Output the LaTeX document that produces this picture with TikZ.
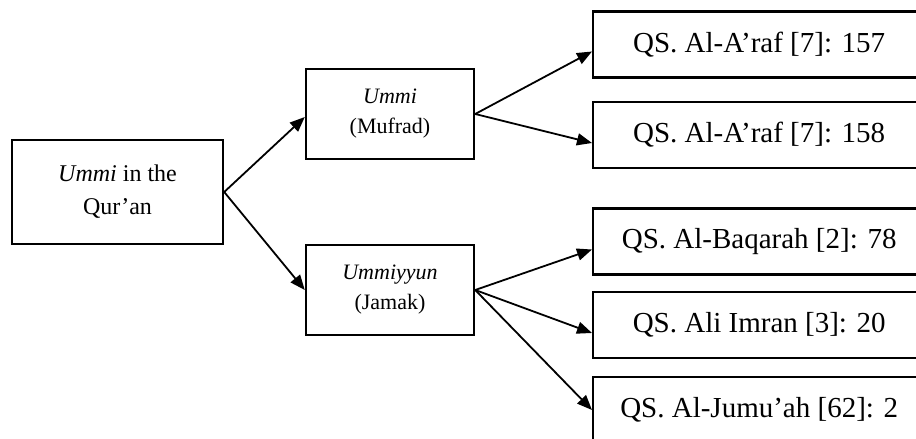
\documentclass[tikz,border=0pt]{standalone}
\usepackage{fontspec}
\setmainfont{Liberation Serif}
\usetikzlibrary{arrows.meta}
\begin{document}
\begin{tikzpicture}[x=1pt, y=-1pt, >={Triangle[length=15pt,width=12pt]}, root/.style={draw, line width=2.4pt, minimum width=211pt, minimum height=104pt, inner sep=0pt, align=center, font=\fontsize{24}{33}\selectfont}, kind/.style={draw, line width=2.4pt, minimum width=168pt, minimum height=90pt, inner sep=0pt, align=center, font=\fontsize{22}{30}\selectfont}, verse/.style={draw, line width=2.4pt, minimum width=332pt, minimum height=66pt, inner sep=0pt, anchor=west, font=\fontsize{29}{32}\selectfont}, link/.style={->, line width=1.8pt}]
\clip (0,0) rectangle (916,439);
\node[root] (q) at (117.5,192) {\textit{Ummi} in the\\Qur'an};
\node[kind] (muf) at (390,114) {\textit{Ummi}\\(Mufrad)};
\node[kind] (jam) at (390,290) {\textit{Ummiyyun}\\(Jamak)};
\node[verse] (r1) at (592,44.5) {QS. Al-A'raf [7]: 157};
\node[verse] (r2) at (592,135) {QS. Al-A'raf [7]: 158};
\node[verse] (r3) at (592,241.5) {QS. Al-Baqarah [2]: 78};
\node[verse] (r4) at (592,325) {QS. Ali Imran [3]: 20};
\node[verse] (r5) at (592,410) {QS. Al-Jumu'ah [62]: 2};
\draw[link] (q.east) -- ([yshift=-3pt]muf.west);
\draw[link] (q.east) -- (jam.west);
\draw[link] (muf.east) -- ([yshift=-7pt]r1.west);
\draw[link] (muf.east) -- ([yshift=-8pt]r2.west);
\draw[link] (jam.east) -- ([yshift=-8pt]r3.west);
\draw[link] (jam.east) -- ([yshift=-8pt]r4.west);
\draw[link] (jam.east) -- (r5.west);
\end{tikzpicture}
\end{document}
